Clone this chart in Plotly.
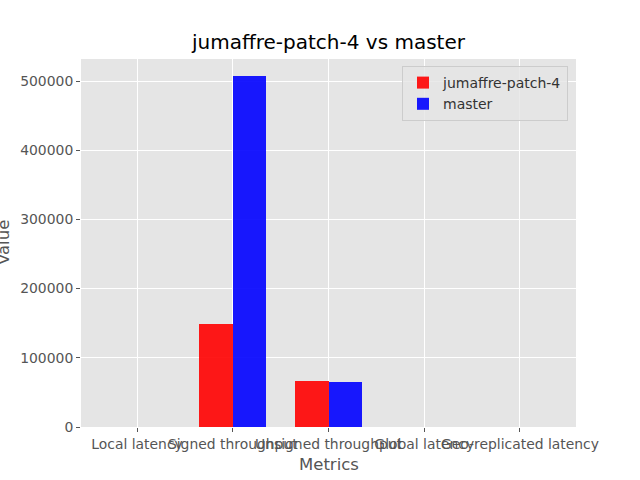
import plotly.graph_objects as go

categories = ["Local latency", "Signed throughput", "Unsigned throughput", "Global latency", "Geo-replicated latency"]
patch_values = [3, 148800, 66500, 4, 5]
master_values = [3, 507500, 65000, 4, 5]
series_names = ["jumaffre-patch-4", "master"]

W = 0.35
idx = list(range(len(categories)))

fig = go.Figure()
fig.add_trace(go.Bar(x=[i - W / 2 for i in idx], y=patch_values, width=W, name=series_names[0],
                     marker=dict(color="rgba(255,0,0,0.9)", line=dict(width=0))))
fig.add_trace(go.Bar(x=[i + W / 2 for i in idx], y=master_values, width=W, name=series_names[1],
                     marker=dict(color="rgba(0,0,255,0.9)", line=dict(width=0))))

L, R, T, B = 81, 576, 59, 427
pw, ph = R - L, B - T

fig.update_layout(
    width=640, height=480,
    margin=dict(l=L, r=640 - R, t=T, b=480 - B, autoexpand=False),
    paper_bgcolor="white", plot_bgcolor="#E5E5E5",
    font=dict(family="DejaVu Sans", color="#555555", size=14),
    title=dict(text="jumaffre-patch-4 vs master", x=0.5 * (L + R) / 640, xanchor="center",
               y=1 - 42 / 480, yanchor="middle", font=dict(size=20, color="black")),
    bargap=0, barmode="overlay",
    xaxis=dict(tickmode="array", tickvals=idx, ticktext=categories, range=[-0.585, 4.585],
               tickangle=0,
               showgrid=True, gridcolor="white", gridwidth=1, zeroline=False,
               ticks="outside", ticklen=4, tickcolor="#555555", tickfont=dict(size=13.9, color="#555555")),
    yaxis=dict(range=[0, 531800], tickvals=[0, 100000, 200000, 300000, 400000, 500000],
               ticktext=["0", "100000", "200000", "300000", "400000", "500000"],
               showgrid=True, gridcolor="white", gridwidth=1, zeroline=False,
               ticks="outside", ticklen=4, tickcolor="#555555", tickfont=dict(size=13.9, color="#555555")),
    legend=dict(x=(402 - L) / pw, y=(B - 66) / ph, xanchor="left", yanchor="top",
                bgcolor="rgba(229,229,229,0.8)", bordercolor="#cccccc", borderwidth=1,
                font=dict(size=14, color="#333333")),
    showlegend=True,
    annotations=[
        dict(text="Metrics", xref="paper", yref="paper", x=0.5, y=(B - 464) / ph,
             xanchor="center", yanchor="middle", showarrow=False, font=dict(size=16.5, color="#555555")),
        dict(text="Value", xref="paper", yref="paper", x=(3 - L) / pw, y=0.5, textangle=-90,
             xanchor="center", yanchor="middle", showarrow=False, font=dict(size=16.5, color="#555555")),
    ],
)

fig.write_html("out.html")
